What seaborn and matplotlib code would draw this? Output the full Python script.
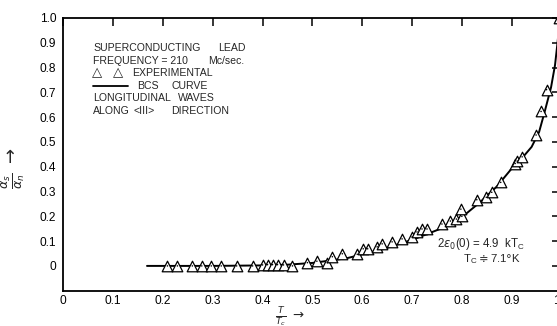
import matplotlib
matplotlib.use("Agg")
import matplotlib.pyplot as plt
import seaborn as sns
import pandas as pd

# ---- data ----
exp_t = [0.209, 0.229, 0.259, 0.278, 0.297, 0.317, 0.348, 0.38, 0.40, 0.41, 0.42, 0.43,
         0.442, 0.46, 0.49, 0.509, 0.53, 0.54, 0.56, 0.59, 0.602, 0.611, 0.63, 0.64,
         0.66, 0.68, 0.70, 0.71, 0.72, 0.73, 0.76, 0.777, 0.789, 0.80, 0.798, 0.83,
         0.849, 0.86, 0.878, 0.907, 0.911, 0.921, 0.949, 0.959, 0.970, 0.994]
exp_a = [0.0, 0.0, 0.0, 0.0, 0.0, 0.0, 0.0, 0.0, 0.004, 0.005, 0.005, 0.005,
         0.004, 0.0, 0.013, 0.019, 0.013, 0.037, 0.049, 0.047, 0.069, 0.069, 0.077, 0.089,
         0.097, 0.109, 0.117, 0.137, 0.149, 0.149, 0.169, 0.181, 0.189, 0.20, 0.229, 0.267,
         0.277, 0.297, 0.337, 0.413, 0.423, 0.44, 0.528, 0.623, 0.711, 1.0]

bcs_t = [0.168, 0.30, 0.40, 0.45, 0.50, 0.569, 0.636, 0.703, 0.77, 0.81, 0.836, 0.87,
         0.903, 0.923, 0.94, 0.955, 0.966, 0.979, 0.987, 0.992, 0.997]
bcs_a = [0.0, 0.0, 0.002, 0.005, 0.012, 0.031, 0.064, 0.107, 0.16, 0.213, 0.256, 0.32,
         0.40, 0.44, 0.48, 0.54, 0.62, 0.72, 0.81, 0.90, 1.0]

x_ticks = [0, 0.1, 0.2, 0.3, 0.4, 0.5, 0.6, 0.7, 0.8, 0.9, 1.0]
x_labels = ["0", "0.1", "0.2", "0.3", "0.4", "0.5", "0.6", "0.7", "0.8", "0.9", "1.0"]
y_ticks = [0, 0.1, 0.2, 0.3, 0.4, 0.5, 0.6, 0.7, 0.8, 0.9, 1.0]
y_labels = ["0", "0.1", "0.2", "0.3", "0.4", "0.5", "0.6", "0.7", "0.8", "0.9", "1.0"]

sns.set_style("white")
plt.rcParams["font.family"] = ["Liberation Sans", "DejaVu Sans"]
plt.rcParams["mathtext.fontset"] = "dejavusans"

W, H = 557, 326
fig = plt.figure(figsize=(W / 100, H / 100), dpi=100)
ax = fig.add_axes([63.3 / W, (H - 290.7) / H, 498.2 / W, 272.7 / H])

df_bcs = pd.DataFrame({"t": bcs_t, "a": bcs_a})
df_exp = pd.DataFrame({"t": exp_t, "a": exp_a})

sns.lineplot(data=df_bcs, x="t", y="a", ax=ax, color="black", lw=1.4,
             sort=False, estimator=None)
sns.scatterplot(data=df_exp, x="t", y="a", ax=ax, marker="^", s=58,
                facecolor="white", edgecolor="black", linewidth=0.9, zorder=3,
                clip_on=False)
sns.scatterplot(data=df_exp, x="t", y="a", ax=ax, marker="o", s=1.2,
                color="black", edgecolor="none", zorder=4, clip_on=False)

ax.set_xlim(0, 1.0)
ax.set_ylim(-0.1, 1.0)
ax.set_xlabel("")
ax.set_ylabel("")
ax.set_xticks(x_ticks)
ax.set_xticklabels(x_labels)
ax.set_yticks(y_ticks)
ax.set_yticklabels(y_labels)
for s in ax.spines.values():
    s.set_visible(True)
    s.set_linewidth(1.3)
    s.set_color("black")
ax.tick_params(axis="x", which="both", direction="in", length=6, width=1.1,
               top=True, labelsize=8.6, pad=3, colors="black")
ax.tick_params(axis="y", which="both", direction="in", length=4, width=1.1,
               right=True, labelsize=8.6, pad=5, colors="black")
for t in ax.yaxis.get_major_ticks():
    t.tick2line.set_markersize(7)

# ---- legend-like text block ----
fs = 7.6
tx = 0.06
ax.text(tx, 0.866, "SUPERCONDUCTING", fontsize=fs, va="baseline")
ax.text(0.3105, 0.866, "LEAD", fontsize=fs, va="baseline")
ax.text(tx, 0.815, "FREQUENCY = 210", fontsize=fs, va="baseline")
ax.text(0.2905, 0.815, "Mc/sec.", fontsize=fs, va="baseline")
ax.text(0.058, 0.766, "\u25b3", fontsize=9.5, va="baseline", family="DejaVu Sans")
ax.text(0.100, 0.766, "\u25b3", fontsize=9.5, va="baseline", family="DejaVu Sans")
ax.text(0.138, 0.766, "EXPERIMENTAL", fontsize=fs, va="baseline")
ax.plot([0.0596, 0.1299], [0.727, 0.727], color="black", lw=1.3)
ax.text(0.148, 0.715, "BCS", fontsize=fs, va="baseline")
ax.text(0.218, 0.715, "CURVE", fontsize=fs, va="baseline")
ax.text(tx, 0.664, "LONGITUDINAL", fontsize=fs, va="baseline")
ax.text(0.2303, 0.664, "WAVES", fontsize=fs, va="baseline")
ax.text(tx, 0.614, "ALONG", fontsize=fs, va="baseline")
ax.text(0.14, 0.614, "<III>", fontsize=fs, va="baseline")
ax.text(0.216, 0.614, "DIRECTION", fontsize=fs, va="baseline")

ax.text(0.75, 0.076, r"2$\epsilon_0$(0) = 4.9  kT$_\mathregular{C}$", fontsize=8.3,
        va="baseline")
ax.text(0.802, 0.016, r"T$_\mathregular{C}$$\doteqdot$7.1$\degree$K", fontsize=8.2,
        va="baseline")

# axis labels
ax.text(-0.101, 0.392, r"$\frac{\alpha_s}{\alpha_n}$ $\rightarrow$", rotation=90,
        fontsize=13, ha="center", va="center", clip_on=False)
ax.text(0.455, -0.207, r"$\frac{T}{T_c}$ $\rightarrow$", fontsize=9.5,
        ha="center", va="center", clip_on=False)

fig.savefig("out.png", dpi=100, facecolor="white")
